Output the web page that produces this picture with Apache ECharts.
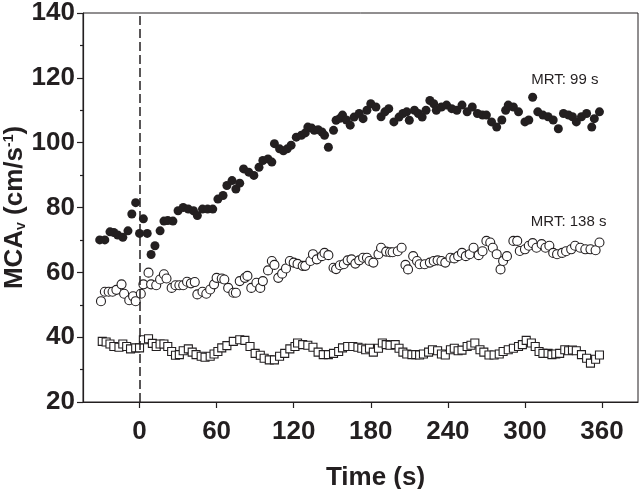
<!DOCTYPE html>
<html>
<head>
<meta charset="utf-8">
<script src="https://cdn.jsdelivr.net/npm/echarts@6/dist/echarts.min.js"></script>
<style>html,body{margin:0;padding:0;background:#fff}#c{width:640px;height:489px}</style>
</head>
<body>
<div id="c"></div>
<script>
// Tick labels
const xTicks = [0, 60, 120, 180, 240, 300, 360];
const yTicks = [20, 40, 60, 80, 100, 120, 140];

// Filled circles (MRT 99 s)
const filledT = [-31,-27,-23,-20,-17,-13,-9,-6,-3,0,3,6,9,12,16,19,22,26,30,34,38,42,45,49,53,57,61,65,68,72,75,78,81,85,89,93,96,100,103,105,109,112,115,118,122,126,129,131,134,136,139,142,144,147,151,153,156,158,161,164,167,171,174,177,180,184,188,191,194,198,202,205,208,210,214,217,220,223,226,229,231,235,239,243,247,251,255,259,263,267,270,274,278,282,285,287,291,295,300,303,306,310,314,318,322,326,330,334,337,340,344,348,352,354,358];
const filledV = [70,70,72.5,72.3,71.5,70.8,72.8,78,81.5,72,76.5,72,65.5,68.2,72.8,75.8,76,75.8,79,80,79.5,79,77.5,79.5,79.5,79.5,82.6,83.7,86.8,88.3,85.7,87.5,91.9,90.9,89.9,92.4,94.5,95,94,99.7,98.1,97.5,98.1,99.2,101.7,102.3,103,104.8,104.5,103.8,104,103.3,102.3,98.6,103.8,106.9,107.5,108.5,107,105.4,107.9,109,107.4,110,112,111,108,109.5,110.5,106.4,107.9,109,109.5,106.9,110,109,107.9,110,113,112,110,111,111.6,110.5,110,111.6,109.5,111,109,108.5,108.5,106.4,104.8,107,110,111.6,111,109.5,106.4,107,114,109.5,108.5,108,107,104.3,109,108.5,108,106.4,108,109,104.8,107.4,109.5];

// Open circles (MRT 138 s)
const openT = [-30,-27,-24,-21,-18,-14,-12,-8,-5,-3,1,3,7,9,13,16,19,21,25,28,31,34,37,40,43,45,49,52,55,58,60,64,66,69,73,75,78,82,84,87,91,94,96,100,103,105,108,111,114,117,120,123,127,129,133,135,138,142,144,147,151,153,156,159,162,165,168,171,174,177,179,182,186,188,192,195,197,201,204,207,209,213,216,218,222,226,229,232,235,238,242,245,248,251,254,257,260,264,267,270,273,275,278,281,283,286,291,294,296,300,303,306,309,313,316,319,322,325,329,332,336,339,343,347,351,355,358];
const openV = [51.1,54,54,54,54.6,56.3,53.4,51.4,52.6,51.1,53.4,56.3,59.9,56.3,56,57.8,59.4,58.1,55.2,56,56,56,57.1,56.6,57,53.2,54,53.4,54.7,56.3,58.3,58.1,57.8,55.2,53.7,53.7,57.3,58.3,58.9,55.2,56.8,55.2,57.3,60.6,63.5,62.3,58.3,59.6,61.2,63.5,63,62.6,62,62,63.5,65.6,64,65,66,65.3,61.4,61,62.2,62.5,63.7,64,62.7,63.7,64.5,64.5,63.5,63,65.6,67.6,66.4,66.2,66.2,66.5,67.6,62.3,60.9,65,63.5,62.5,62.5,63,63.5,63.7,63.5,63,64.5,64.3,65,66,65,65.6,67.6,65.3,66.5,69.7,69.2,67.6,65.6,60.9,63.5,65,69.7,69.7,66.6,67.1,68.2,69,67.6,68.7,67.6,68.2,66,65.6,66,66.5,67.1,68.2,67.6,67.1,67.1,66.8,69.2];

// Open squares
const squareT = [-29,-26,-23,-20,-16,-13,-10,-7,-3,0,3,7,10,13,16,19,22,25,28,31,34,38,41,44,48,51,55,58,61,64,68,73,78,82,86,90,94,97,101,105,109,113,117,121,123,127,131,135,139,143,147,151,155,158,162,166,170,173,176,179,182,186,189,192,195,199,202,205,208,212,215,218,221,225,228,232,235,238,242,245,248,251,255,258,261,265,268,272,276,280,283,287,291,295,298,301,305,308,311,314,318,321,324,327,331,334,337,340,344,348,351,355,358];
const squareV = [38.7,38.5,37.9,37.1,36.9,37.9,37.1,36.4,36.7,36.7,39.2,39.5,38.1,37.1,37.9,37.9,37.1,35.6,34.4,34.6,35.8,36.4,35.4,34.6,34.1,33.8,34.1,34.8,35.6,36.7,37.4,38.7,39.2,39,37.1,35,34.4,33.5,33,33,34.1,35,36.4,37.1,38.2,37.7,37.5,36.9,35.4,34.6,34.6,35,35.6,36.7,37.1,37.1,36.9,36.6,36.1,36.6,35.4,36.6,38.2,37.7,37.5,37.7,36.6,35.4,34.8,34.6,34.6,34.5,34.8,35.4,36.1,35.8,34.8,34.5,36.1,36.6,35.8,36,37.1,37.5,38.2,36.1,35.4,34.5,34.5,34.8,35.6,36.1,36.6,37.1,37.7,39,38.2,37.1,35.6,35,35,34.6,34.8,35,36.1,35.8,36,35.8,34.6,33.5,32,33.2,34.5];

// Annotations
const annoText = ['MRT: 99 s', 'MRT: 138 s'];
const annoT = [331, 334];
const annoV = [119.5, 75.5];
const stimulusTime = 0;

const INK = '#231f20';
const FONT = '"Liberation Sans", Arial, Helvetica, sans-serif';
const zip = (t, v) => t.map((x, i) => [x, v[i]]);

const chart = echarts.init(document.getElementById('c'), null, {renderer: 'canvas'});
chart.setOption({
  animation: false,
  backgroundColor: '#fff',
  grid: {left: 83, top: 13, width: 555, height: 389, show: true, borderColor: INK, borderWidth: 1,
         backgroundColor: 'transparent', containLabel: false, outerBoundsMode: 'none'},
  xAxis: {
    type: 'value', min: -44, max: 388,
    axisLine: {show: true, onZero: false, lineStyle: {color: INK, width: 1.2}},
    axisTick: {show: true, inside: false, length: 6, customValues: xTicks, lineStyle: {color: INK, width: 1.2}},
    axisLabel: {customValues: xTicks, color: INK, fontFamily: FONT, fontWeight: 'bold', fontSize: 26, margin: 17},
    splitLine: {show: false},
    name: 'Time (s)', nameLocation: 'middle', nameGap: 63, nameMoveOverlap: false,
    nameTextStyle: {color: INK, fontFamily: FONT, fontWeight: 'bold', fontSize: 26, padding: [0, 0, 0, 30]}
  },
  yAxis: {
    type: 'value', min: 20, max: 140, interval: 20,
    axisLine: {show: true, onZero: false, lineStyle: {color: INK, width: 1.2}},
    axisTick: {show: true, inside: false, length: 6, lineStyle: {color: INK, width: 1.2}},
    minorTick: {show: true, splitNumber: 2, length: 3, lineStyle: {color: INK, width: 1.2}},
    axisLabel: {customValues: yTicks, color: INK, fontFamily: FONT, fontWeight: 'bold', fontSize: 26, margin: 8},
    splitLine: {show: false},
    name: '{a|MCA}{sub|v}{a| (cm/s}{sup|-1}{a|)}', nameLocation: 'middle', nameGap: 55, nameMoveOverlap: false,
    nameTextStyle: {
      color: INK, fontFamily: FONT, fontWeight: 'bold', fontSize: 26,
      rich: {
        a: {color: INK, fontFamily: FONT, fontWeight: 'bold', fontSize: 26},
        sub: {color: INK, fontFamily: FONT, fontWeight: 'bold', fontSize: 14, verticalAlign: 'bottom', padding: [12, 0, 0, 0]},
        sup: {color: INK, fontFamily: FONT, fontWeight: 'bold', fontSize: 14, verticalAlign: 'top', padding: [0, 0, 12, 0]}
      }
    }
  },
  series: [
    {
      type: 'scatter', name: 'filled', data: zip(filledT, filledV),
      symbol: 'circle', symbolSize: 9,
      itemStyle: {color: INK, borderColor: INK, borderWidth: 0, opacity: 1},
      markLine: {
        silent: true, symbol: ['none', 'none'], label: {show: false},
        lineStyle: {color: INK, width: 1.5, type: [9, 4]},
        data: [{xAxis: stimulusTime}]
      },
      z: 3
    },
    {
      type: 'scatter', name: 'open', data: zip(openT, openV),
      symbol: 'circle', symbolSize: 9,
      itemStyle: {color: '#fff', borderColor: INK, borderWidth: 1.1, opacity: 1},
      z: 2
    },
    {
      type: 'scatter', name: 'square', data: zip(squareT, squareV),
      symbol: 'rect', symbolSize: 8,
      itemStyle: {color: '#fff', borderColor: INK, borderWidth: 1.1, opacity: 1},
      z: 2
    },
    {
      type: 'scatter', name: 'annotations',
      data: annoT.map((t, i) => ({value: [t, annoV[i]], label: {formatter: annoText[i]}})),
      symbol: 'circle', symbolSize: 2, silent: true,
      itemStyle: {color: 'rgba(0,0,0,0)', opacity: 1},
      label: {show: true, position: 'inside', color: INK, fontFamily: FONT, fontSize: 15, opacity: 1},
      labelLayout: {hideOverlap: false},
      z: 4
    }
  ]
});
</script>
</body>
</html>
